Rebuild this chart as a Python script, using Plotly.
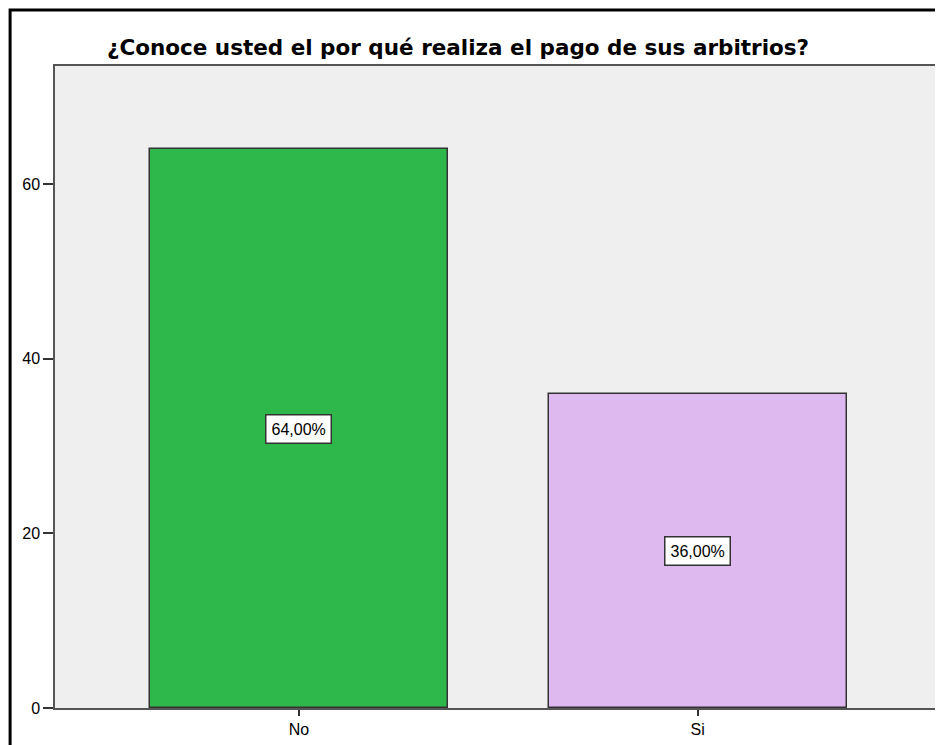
import plotly.graph_objects as go

categories = ["No", "Si"]
percentages = [64.0, 36.0]
colors = ["#2EB84B", "#DDB9F0"]
title_text = "¿Conoce usted el por qué realiza el pago de sus arbitrios?"

labels = [f"{v:.2f}%".replace(".", ",") for v in percentages]

fig = go.Figure()
fig.add_trace(go.Bar(
    x=categories, y=percentages, width=0.748,
    marker=dict(color=colors, line=dict(color="#333333", width=1.5)),
    hoverinfo="skip",
))

for c, v, t in zip(categories, percentages, labels):
    fig.add_annotation(x=c, y=v / 2, text=t, showarrow=False,
                       bgcolor="white", bordercolor="#333333", borderwidth=1.5,
                       borderpad=5, font=dict(size=16, color="black"))

# page body has an 8px offset; figure is sized to fill the window
W, H = 935, 737
L, R, T, B = 47, 1, 58, 37
pw, ph = W - L - R, H - T - B
fig.add_shape(type="rect", xref="paper", yref="paper",
              x0=(2 - L) / pw, x1=1 + (R + 5) / pw, y0=-(B + 5) / ph,
              y1=1 + (T - 2) / ph,
              line=dict(color="black", width=3), fillcolor="rgba(0,0,0,0)",
              layer="below")

fig.update_layout(
    width=W, height=H,
    margin=dict(l=L, r=R, t=T, b=B),
    paper_bgcolor="white", plot_bgcolor="#EFEFEF",
    font=dict(family="Liberation Sans, Arial, sans-serif", size=16, color="black"),
    title=dict(text="<b>" + title_text + "</b>", x=450 / W, xanchor="center",
               xref="container", y=1 - 39 / H, yanchor="middle",
               font=dict(family="DejaVu Sans, sans-serif", size=21.5, color="black")),
    showlegend=False,
    bargap=0,
)
fig.update_xaxes(range=[-0.612, 1.608], showgrid=False, zeroline=False,
                 showline=True, linecolor="#555555", linewidth=1.5, mirror=True,
                 ticks="outside", ticklen=6, tickcolor="#333333", tickwidth=1.5,
                 tickfont=dict(size=16))
fig.update_yaxes(range=[0, 73.51], tickvals=[0, 20, 40, 60], showgrid=False,
                 zeroline=False, showline=True, linecolor="#555555", linewidth=1.5,
                 mirror=True, ticks="outside", ticklen=10, tickcolor="#333333",
                 tickwidth=1.5, tickfont=dict(size=16))

fig.write_html("out.html")
